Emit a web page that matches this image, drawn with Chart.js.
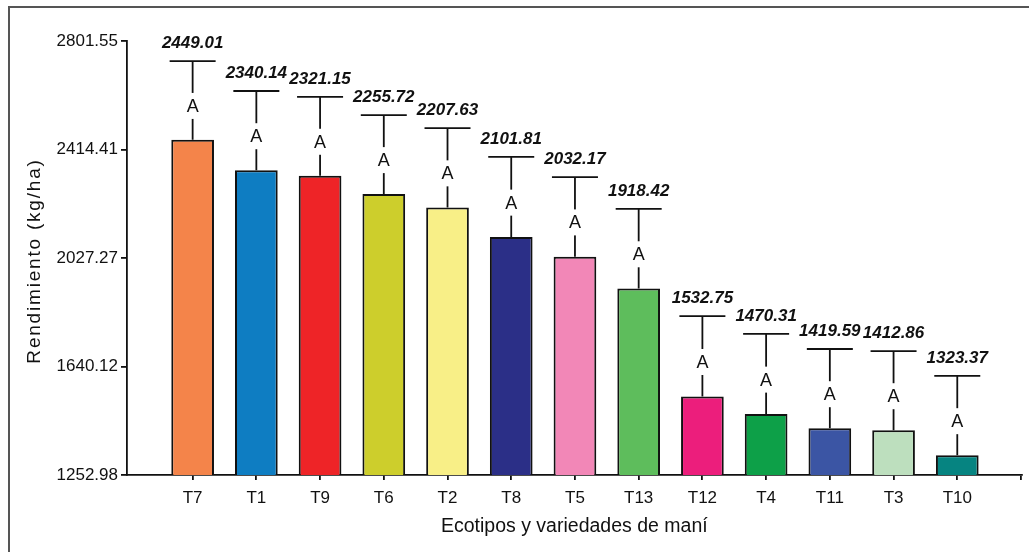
<!DOCTYPE html>
<html>
<head>
<meta charset="utf-8">
<script src="https://cdn.jsdelivr.net/npm/chart.js@4.4.1/dist/chart.umd.min.js"></script>
<style>
  html, body { margin: 0; padding: 0; background: #fff; }
  #wrap { width: 1029px; height: 552px; position: relative; }
</style>
</head>
<body>
<div id="wrap"><canvas id="chart"></canvas></div>
<script>
// datos
const categories = ["T7", "T1", "T9", "T6", "T2", "T8", "T5", "T13", "T12", "T4", "T11", "T3", "T10"];
const means = [2449.01, 2340.14, 2321.15, 2255.72, 2207.63, 2101.81, 2032.17, 1918.42, 1532.75, 1470.31, 1419.59, 1412.86, 1323.37];
const errors = [281, 283, 281, 281, 283, 286, 284, 284, 287, 286, 283, 282, 283];
const letters = ["A", "A", "A", "A", "A", "A", "A", "A", "A", "A", "A", "A", "A"];
const yTicks = [1252.98, 1640.12, 2027.27, 2414.41, 2801.55];
const yTickLabels = ["1252.98", "1640.12", "2027.27", "2414.41", "2801.55"];
const barColors = ["#F4844A", "#0E7DC2", "#EE2427", "#CDCE2C", "#F8EF87", "#2B2F87", "#F287B7",
                   "#5EBD5C", "#EC1E7C", "#0DA048", "#3B55A4", "#BDDFBE", "#068481"];
const yTitle = "Rendimiento (kg/ha)";

const FONT = "Arial, 'Liberation Sans', sans-serif";

const framePlugin = {
    id: "frame",
    beforeDraw(chart) {
        const ctx = chart.ctx;
        ctx.save();
        ctx.strokeStyle = "#555";
        ctx.lineWidth = 2;
        ctx.strokeRect(9, 7, 1200, 800);
        ctx.restore();
    },
    afterDraw(chart) {
        // titulo del eje y (espaciado de letras como el original)
        const ctx = chart.ctx;
        const a = chart.chartArea;
        ctx.save();
        ctx.translate(35, (a.top + a.bottom) / 2 + 3);
        ctx.rotate(-Math.PI / 2);
        ctx.font = "19px " + FONT;
        ctx.letterSpacing = "1.8px";
        ctx.fillStyle = "#111";
        ctx.textAlign = "center";
        ctx.textBaseline = "middle";
        ctx.fillText(yTitle, 0, 0);
        ctx.restore();
    }
};

const errorBarPlugin = {
    id: "errorBars",
    afterDatasetsDraw(chart) {
        const ctx = chart.ctx;
        const x = chart.scales.x;
        const y = chart.scales.y;
        ctx.save();
        means.forEach((m, i) => {
            const px = x.getPixelForValue(i);
            const yBar = y.getPixelForValue(m);
            const yCap = y.getPixelForValue(m + errors[i]);

            ctx.strokeStyle = "#111";
            ctx.lineWidth = 1.8;
            ctx.beginPath();
            ctx.moveTo(px, yBar);
            ctx.lineTo(px, yCap);
            ctx.moveTo(px - 23, yCap);
            ctx.lineTo(px + 23, yCap);
            ctx.stroke();

            // letra de significancia
            const yA = yCap + (yBar - yCap) * 0.57;
            ctx.fillStyle = "#fff";
            ctx.fillRect(px - 8, yA - 13, 16, 26);
            ctx.fillStyle = "#111";
            ctx.font = "18px " + FONT;
            ctx.textAlign = "center";
            ctx.textBaseline = "middle";
            ctx.fillText(letters[i], px, yA + 1);

            // valor medio
            ctx.font = "italic bold 17px " + FONT;
            ctx.fillText(m.toFixed(2), px, yCap - 18);
        });
        ctx.restore();
    }
};

new Chart(document.getElementById("chart"), {
    type: "bar",
    data: {
        datasets: [{
            data: means.map((v, i) => ({ x: i, y: v })),
            backgroundColor: barColors,
            borderColor: "#111",
            borderWidth: 2,
            barPercentage: 0.67,
            categoryPercentage: 1
        }]
    },
    options: {
        responsive: true,
        maintainAspectRatio: false,
        animation: false,
        layout: { padding: { top: 41, right: 0, bottom: 0, left: 0 } },
        plugins: {
            legend: { display: false },
            tooltip: { enabled: false }
        },
        scales: {
            x: {
                type: "linear",
                offset: false,
                min: -1.03,
                max: 13.01,
                afterBuildTicks: s => { s.ticks = categories.map((c, i) => ({ value: i })).concat([{ value: 13 }]); },
                afterFit: s => { s.height = 77; },
                ticks: {
                    callback: v => categories[v] || "",
                    color: "#111",
                    font: { family: FONT, size: 17 },
                    padding: 8,
                    maxRotation: 0,
                    autoSkip: false
                },
                grid: { offset: false, drawOnChartArea: false, tickLength: 5, color: "#111", lineWidth: 1.8 },
                border: { color: "#111", width: 1.8 },
                title: {
                    display: true,
                    text: "Ecotipos y variedades de maní",
                    color: "#111",
                    font: { family: FONT, size: 19.5 },
                    padding: { top: 0, bottom: 14 }
                }
            },
            y: {
                min: yTicks[0],
                max: yTicks[yTicks.length - 1],
                afterBuildTicks: s => { s.ticks = yTicks.map(v => ({ value: v })); },
                afterFit: s => { s.width = 127; },
                ticks: {
                    callback: (v, i) => yTickLabels[i],
                    color: "#111",
                    font: { family: FONT, size: 17 },
                    padding: 3
                },
                grid: { drawOnChartArea: false, tickLength: 6, color: "#111", lineWidth: 1.8 },
                border: { color: "#111", width: 1.8 }
            }
        }
    },
    plugins: [framePlugin, errorBarPlugin]
});
</script>
</body>
</html>
